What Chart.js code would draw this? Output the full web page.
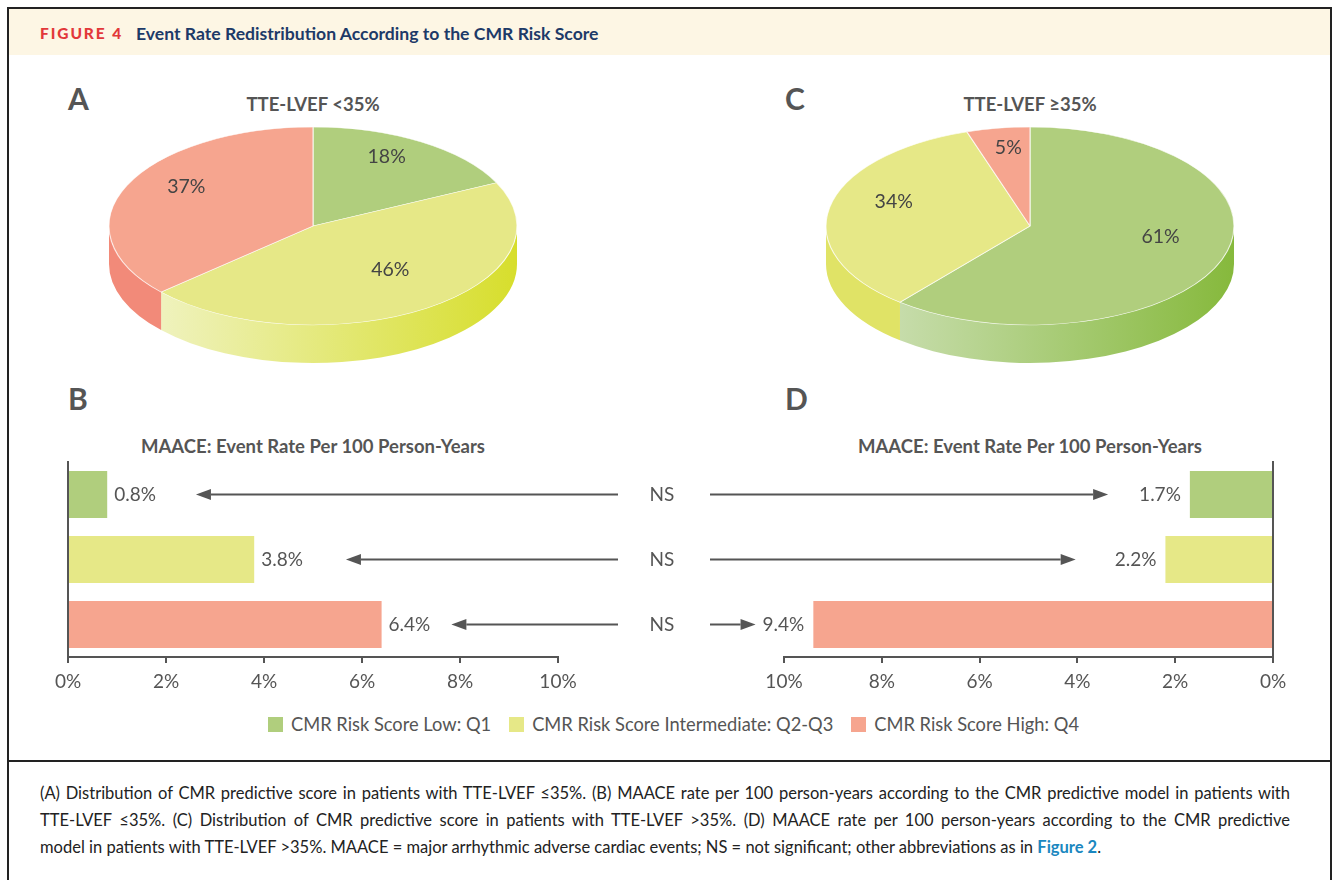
<!DOCTYPE html>
<html>
<head>
<meta charset="utf-8">
<title>Event Rate Redistribution According to the CMR Risk Score</title>
<script src="https://cdn.jsdelivr.net/npm/chart.js@4.4.1/dist/chart.umd.min.js"></script>
<style>
  html, body { margin: 0; padding: 0; background: #fff; }
  #page { position: relative; width: 1337px; height: 880px; overflow: hidden; font-family: Lato, 'Noto Sans', sans-serif; color: #555; }
  .frame { position: absolute; left: 7px; top: 7px; width: 1325px; height: 920px; border: 2px solid #222; box-sizing: border-box; }
  .header { position: absolute; left: 9px; top: 9px; width: 1321px; height: 46px; background: #fdf6e4; }
  .fig-no { position: absolute; left: 40px; top: 33px; transform: translateY(-50%); color: #e2383a; font-weight: 900; font-size: 15.5px; letter-spacing: 1.9px; }
  .fig-title { position: absolute; left: 136px; top: 33px; transform: translateY(-50%); color: #1d3a68; font-weight: 700; font-size: 17.6px; }
  .panel { position: absolute; transform: translateY(-50%); font-weight: 700; font-size: 30px; color: #555; line-height: 1; }
  .ctitle { position: absolute; transform: translate(-50%, -50%); font-size: 18.5px; font-weight: 700; color: #555; white-space: nowrap; line-height: 1; }
  canvas { position: absolute; }
  .divider { position: absolute; left: 7px; top: 760px; width: 1325px; height: 2px; background: #222; }
  .legend { position: absolute; left: 268px; top: 724px; transform: translateY(-50%); display: flex; align-items: center; font-size: 18.3px; color: #555; white-space: nowrap; }
  .legend .sw { width: 15px; height: 15px; margin-right: 8px; }
  .legend .item { display: flex; align-items: center; margin-right: 18px; }
  .caption { position: absolute; left: 40px; width: 1250px; font-size: 16.5px; color: #222; line-height: 1; white-space: nowrap; }
  .caption.just { text-align: justify; text-align-last: justify; }
  .caption b { color: #1a87c0; }
</style>
</head>
<body>
<div id="page">
  <div class="header"></div>
  <div class="frame"></div>
  <div class="fig-no">FIGURE 4</div>
  <div class="fig-title">Event Rate Redistribution According to the CMR Risk Score</div>

  <div class="panel" style="left:68px; top:98px;">A</div>
  <div class="panel" style="left:785px; top:98px;">C</div>
  <div class="panel" style="left:68px; top:398px;">B</div>
  <div class="panel" style="left:785px; top:398px;">D</div>

  <div class="ctitle" id="titleA" style="left:313px; top:104px;"></div>
  <div class="ctitle" id="titleC" style="left:1030px; top:104px;"></div>
  <div class="ctitle" id="titleB" style="left:313px; top:446px;"></div>
  <div class="ctitle" id="titleD" style="left:1030px; top:446px;"></div>

  <canvas id="pieA" width="440" height="270" style="left:93px; top:110px;"></canvas>
  <canvas id="pieC" width="440" height="270" style="left:810px; top:110px;"></canvas>
  <canvas id="barB" width="700" height="290" style="left:0px; top:420px;"></canvas>
  <canvas id="barD" width="637" height="290" style="left:700px; top:420px;"></canvas>

  <div class="legend" id="legend"></div>

  <div class="divider"></div>
  <div class="caption just" style="top:785px;">(A) Distribution of CMR predictive score in patients with TTE-LVEF ≤35%. (B) MAACE rate per 100 person-years according to the CMR predictive model in patients with</div>
  <div class="caption just" style="top:812px;">TTE-LVEF ≤35%. (C) Distribution of CMR predictive score in patients with TTE-LVEF &gt;35%. (D) MAACE rate per 100 person-years according to the CMR predictive</div>
  <div class="caption" style="top:839px;">model in patients with TTE-LVEF &gt;35%. MAACE = major arrhythmic adverse cardiac events; NS = not significant; other abbreviations as in <b>Figure 2</b>.</div>
</div>

<script>
// Chart data
const riskLabels = ['CMR Risk Score Low: Q1', 'CMR Risk Score Intermediate: Q2-Q3', 'CMR Risk Score High: Q4'];
const pieShareA = [18, 46, 37];
const pieShareC = [61, 34, 5];
const eventRateB = [0.8, 3.8, 6.4];
const eventRateD = [1.7, 2.2, 9.4];
const rateTicks = [0, 2, 4, 6, 8, 10];
const significance = ['NS', 'NS', 'NS'];
const pieTitleA = 'TTE-LVEF <35%';
const pieTitleC = 'TTE-LVEF ≥35%';
const barTitle = 'MAACE: Event Rate Per 100 Person-Years';

// Styles
const riskColors = ['#b0ce7d', '#e6e887', '#f6a58f'];
const sideLight = ['#c6dcaa', '#eff2bd', '#f9b8a6'];
const sideDark = ['#86b93c', '#d7de2c', '#ee7d69'];
const sideEdge = ['#9cc55c', '#e0e366', '#f28a79'];
const inkColor = '#555';
const fontFamily = 'Lato, "Noto Sans", sans-serif';

document.getElementById('titleA').textContent = pieTitleA;
document.getElementById('titleC').textContent = pieTitleC;
document.getElementById('titleB').textContent = barTitle;
document.getElementById('titleD').textContent = barTitle;

// legend
const legendEl = document.getElementById('legend');
riskLabels.forEach((label, i) => {
    const item = document.createElement('div');
    item.className = 'item';
    item.innerHTML = '<div class="sw" style="background:' + riskColors[i] + '"></div><span></span>';
    item.querySelector('span').textContent = label;
    legendEl.appendChild(item);
});

// 3D tilted pie: squash the library's arcs into an ellipse and add a side wall
const tiltPlugin = {
    id: 'tilt',
    beforeDatasetsDraw(chart) {
        const geo = chart.options.plugins.tilt;
        const meta = chart.getDatasetMeta(0);
        const first = meta.data[0];
        const ctx = chart.ctx;
        ctx.save();

        // side wall, front half only
        meta.data.forEach((arc, i) => {
            const a1 = Math.max(arc.startAngle, 0);
            const a2 = Math.min(arc.endAngle, Math.PI);
            if (a2 <= a1) return;
            const xL = geo.tx + geo.rx * Math.cos(a2);
            const xR = geo.tx + geo.rx * Math.cos(a1);
            let fill;
            if (a2 >= Math.PI - 1e-6 && a1 > Math.PI / 2) {
                fill = sideEdge[i];
            } else {
                fill = ctx.createLinearGradient(xL, 0, xR, 0);
                fill.addColorStop(0, sideLight[i]);
                fill.addColorStop(1, sideDark[i]);
            }
            ctx.beginPath();
            ctx.ellipse(geo.tx, geo.ty, geo.rx, geo.ry, 0, a1, a2);
            ctx.ellipse(geo.tx, geo.ty + geo.depth, geo.rx, geo.ry, 0, a2, a1, true);
            ctx.closePath();
            ctx.fillStyle = fill;
            ctx.fill();
        });

        const R = first.outerRadius;
        ctx.translate(geo.tx, geo.ty);
        ctx.scale(geo.rx / R, geo.ry / R);
        ctx.translate(-first.x, -first.y);
    },
    afterDatasetsDraw(chart) {
        const geo = chart.options.plugins.tilt;
        const ctx = chart.ctx;
        ctx.restore();

        const meta = chart.getDatasetMeta(0);
        const values = chart.data.datasets[0].data;
        ctx.save();
        ctx.font = '19.5px ' + fontFamily;
        ctx.fillStyle = '#444';
        ctx.textAlign = 'center';
        ctx.textBaseline = 'middle';
        meta.data.forEach((arc, i) => {
            const mid = (arc.startAngle + arc.endAngle) / 2;
            const x = geo.tx + geo.rx * 0.68 * Math.cos(mid);
            const y = geo.ty - 12 + geo.ry * 0.68 * Math.sin(mid);
            ctx.fillText(values[i] + '%', x, y);
        });
        ctx.restore();
    }
};

function makePie(id, values) {
    return new Chart(document.getElementById(id), {
        type: 'pie',
        data: {
            labels: riskLabels,
            datasets: [{
                data: values,
                backgroundColor: riskColors,
                borderColor: 'rgba(255,255,255,0.7)',
                borderWidth: 0.8,
                hoverOffset: 0,
                clip: false
            }]
        },
        options: {
            responsive: false,
            animation: false,
            events: [],
            layout: { padding: 0 },
            plugins: {
                legend: { display: false },
                tooltip: { enabled: false },
                tilt: { tx: 220, ty: 116, rx: 204, ry: 99, depth: 38 }
            }
        },
        plugins: [tiltPlugin]
    });
}

makePie('pieA', pieShareA);
makePie('pieC', pieShareC);

// value labels, arrows and NS marks on the bar charts
const annotatePlugin = {
    id: 'annotate',
    afterDatasetsDraw(chart) {
        const opts = chart.options.plugins.annotate;
        const meta = chart.getDatasetMeta(0);
        const values = chart.data.datasets[0].data;
        const ctx = chart.ctx;
        ctx.save();
        ctx.font = '19px ' + fontFamily;
        ctx.textBaseline = 'middle';
        meta.data.forEach((bar, i) => {
            const text = values[i] + '%';
            const w = ctx.measureText(text).width;
            let tip;
            ctx.fillStyle = inkColor;
            if (opts.side === 'left') {
                ctx.textAlign = 'left';
                ctx.fillText(text, bar.x + opts.labelGap, bar.y);
                tip = bar.x + opts.labelGap + w + opts.arrowGap[i];
            } else {
                ctx.textAlign = 'right';
                ctx.fillText(text, bar.x - opts.labelGap, bar.y);
                tip = bar.x - opts.labelGap - w - opts.arrowGap[i];
            }
            // arrow
            const dir = Math.sign(tip - opts.arrowStart);
            const head = 15;
            ctx.strokeStyle = inkColor;
            ctx.lineWidth = 2;
            ctx.beginPath();
            ctx.moveTo(opts.arrowStart, bar.y);
            ctx.lineTo(tip - dir * head, bar.y);
            ctx.stroke();
            ctx.beginPath();
            ctx.moveTo(tip, bar.y);
            ctx.lineTo(tip - dir * head, bar.y - 5.5);
            ctx.lineTo(tip - dir * head, bar.y + 5.5);
            ctx.closePath();
            ctx.fillStyle = inkColor;
            ctx.fill();
            if (opts.nsX !== undefined) {
                ctx.textAlign = 'center';
                ctx.fillText(significance[i], opts.nsX, bar.y);
            }
        });
        ctx.restore();
    }
};

function makeBar(id, values, mirrored, padding, annotate) {
    return new Chart(document.getElementById(id), {
        type: 'bar',
        data: {
            labels: riskLabels,
            datasets: [{
                data: values,
                backgroundColor: riskColors,
                borderWidth: 0,
                barPercentage: 1,
                categoryPercentage: 0.723
            }]
        },
        options: {
            indexAxis: 'y',
            responsive: false,
            animation: false,
            events: [],
            layout: { padding: padding },
            plugins: {
                legend: { display: false },
                tooltip: { enabled: false },
                annotate: annotate
            },
            scales: {
                x: {
                    min: 0,
                    max: 10,
                    reverse: mirrored,
                    afterBuildTicks: (scale) => { scale.ticks = rateTicks.map(v => ({ value: v })); },
                    afterFit: (scale) => { scale.height = 40; },
                    grid: { drawOnChartArea: false, drawTicks: true, tickLength: 6, color: inkColor, lineWidth: 2 },
                    border: { display: true, color: inkColor, width: 2 },
                    ticks: {
                        color: inkColor,
                        padding: 7,
                        maxRotation: 0,
                        font: { family: fontFamily, size: 19 },
                        callback: (v) => v + '%'
                    }
                },
                y: {
                    position: mirrored ? 'right' : 'left',
                    afterFit: (scale) => { scale.width = 0; },
                    grid: { display: false },
                    border: { display: true, color: inkColor, width: 2 },
                    ticks: { display: false }
                }
            }
        },
        plugins: [annotatePlugin]
    });
}

makeBar('barB', eventRateB, false,
    { left: 68, right: 142, top: 42, bottom: 13 },
    { side: 'left', labelGap: 7, arrowGap: [40, 43, 21], arrowStart: 618, nsX: 662 });

makeBar('barD', eventRateD, true,
    { left: 84, right: 64, top: 42, bottom: 13 },
    { side: 'right', labelGap: 9, arrowGap: [31, 39, 7], arrowStart: 10 });
</script>
</body>
</html>
